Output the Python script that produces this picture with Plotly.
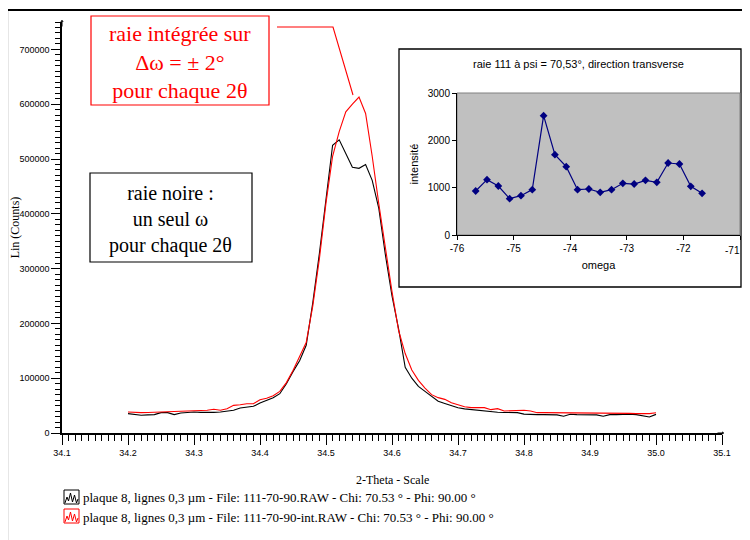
import plotly.graph_objects as go

# ---------------- data ----------------
two_theta = [round(34.20 + 0.01 * i, 2) for i in range(81)]

black_counts = [
    35400, 33800, 32300, 33000, 33500, 37100, 37100, 33500, 36500, 37400,   # 34.20-34.29
    38300, 37700, 37100, 37700, 38300, 39800, 41400, 45600, 47500, 48700,   # 34.30-34.39
    54700, 59000, 64500, 71700, 90000, 112000, 132000, 160000, 238000, 328000,  # 34.40-34.49
    425000, 525000, 535000, 510000, 485000, 483000, 490000, 461000, 410000, 325000,  # 34.50-34.59
    250000, 190000, 120000, 100000, 85000, 76000, 67000, 58000, 54000, 50000,  # 34.60-34.69
    46000, 44000, 42500, 41400, 40000, 38500, 37800, 37500, 37100, 37100,   # 34.70-34.79
    34500, 33500, 33500, 33500, 33500, 33000, 30500, 34100, 33500, 33500,   # 34.80-34.89
    33500, 33000, 30500, 33500, 33500, 34100, 34100, 33500, 32000, 29200,   # 34.90-34.99
    34000,                                                                   # 35.00
]

red_counts = [
    38300, 37500, 37100, 37500, 38300, 38900, 38900, 39200, 39500, 40100,   # 34.20-34.29
    40100, 40100, 41500, 43200, 41400, 44400, 50500, 51500, 53500, 53500,   # 34.30-34.39
    60800, 63500, 68000, 76000, 92000, 114000, 140000, 165000, 232000, 318000,  # 34.40-34.49
    420000, 505000, 550000, 586000, 600000, 613000, 583000, 505000, 418000, 335000,  # 34.50-34.59
    258000, 187000, 145000, 115000, 96000, 82000, 70000, 64500, 61400, 55000,  # 34.60-34.69
    51000, 48000, 46300, 46300, 46300, 42600, 44400, 40100, 40500, 41400,   # 34.70-34.79
    41400, 40200, 37100, 37100, 37100, 37100, 37100, 36800, 36800, 36800,   # 34.80-34.89
    36800, 36800, 36500, 36500, 36500, 36500, 35800, 35400, 35400, 35400,   # 34.90-34.99
    37100,                                                                   # 35.00
]

omega = [-75.67, -75.47, -75.27, -75.07, -74.87, -74.67, -74.47, -74.27, -74.07,
         -73.87, -73.67, -73.47, -73.27, -73.07, -72.87, -72.67, -72.47, -72.27,
         -72.07, -71.87, -71.67]
intensite = [930, 1169, 1035, 768, 831, 958, 2521, 1697, 1444, 958, 972, 901,
             958, 1092, 1077, 1155, 1113, 1521, 1500, 1028, 880]

main_x_ticks = [34.1, 34.2, 34.3, 34.4, 34.5, 34.6, 34.7, 34.8, 34.9, 35.0, 35.1]
main_y_ticks = [0, 100000, 200000, 300000, 400000, 500000, 600000, 700000]
inset_x_ticks = [-76, -75, -74, -73, -72, -71]

legend_black = "plaque 8, lignes 0,3 µm - File: 111-70-90.RAW - Chi: 70.53 ° - Phi: 90.00 °"
legend_red = "plaque 8, lignes 0,3 µm - File: 111-70-90-int.RAW - Chi: 70.53 ° - Phi: 90.00 °"

# ---------------- layout geometry ----------------
# the page body adds an 8 px offset; all target positions below are window pixels
OFF = 8
W, H = 750 - OFF, 540 - OFF
ML, MT = 62 - OFF, 22 - OFF
MR = W - (745 - OFF)
MB = H - (433 - OFF)
PW = W - ML - MR
PH = H - MT - MB


def px(x):
    return (x - OFF - ML) / PW


def py(y):
    return (H - MB - (y - OFF)) / PH


SERIF = "Liberation Serif"
SANS = "Liberation Sans"

fig = go.Figure()

fig.add_trace(go.Scatter(x=two_theta, y=black_counts, mode="lines",
                         line=dict(color="black", width=1.1), name="black",
                         xaxis="x", yaxis="y", showlegend=False))
fig.add_trace(go.Scatter(x=two_theta, y=red_counts, mode="lines",
                         line=dict(color="#ff0000", width=1.1), name="red",
                         xaxis="x", yaxis="y", showlegend=False))
fig.add_trace(go.Scatter(x=omega, y=intensite, mode="lines+markers",
                         line=dict(color="#000080", width=1.2),
                         marker=dict(symbol="diamond", size=6, color="#000080"),
                         xaxis="x2", yaxis="y2", showlegend=False))

shapes = []
# outer frame
shapes.append(dict(type="rect", xref="paper", yref="paper",
                   x0=px(7), x1=px(770), y0=py(10), y1=py(560),
                   line=dict(color="black", width=2.2), fillcolor="rgba(0,0,0,0)",
                   layer="below"))
# inset white box
shapes.append(dict(type="rect", xref="paper", yref="paper",
                   x0=px(399), x1=px(741), y0=py(49), y1=py(287),
                   line=dict(color="black", width=1.3), fillcolor="white",
                   layer="below"))
# inset gray plot area
shapes.append(dict(type="rect", xref="x2 domain", yref="y2 domain",
                   x0=0, x1=1, y0=0, y1=1,
                   line=dict(color="#808080", width=1), fillcolor="#c0c0c0",
                   layer="below"))
# red text box
shapes.append(dict(type="rect", xref="paper", yref="paper",
                   x0=px(91), x1=px(269), y0=py(16), y1=py(105),
                   line=dict(color="#ff0000", width=1.2), fillcolor="rgba(0,0,0,0)"))
# leader line
shapes.append(dict(type="path", xref="paper", yref="paper",
                   path="M %f,%f L %f,%f L %f,%f" % (px(277), py(27), px(333), py(27), px(353), py(95)),
                   line=dict(color="#ff0000", width=1.1)))
# black text box
shapes.append(dict(type="rect", xref="paper", yref="paper",
                   x0=px(90), x1=px(252), y0=py(173), y1=py(262),
                   line=dict(color="black", width=1.2), fillcolor="rgba(0,0,0,0)"))


def legend_icon(y_top, color):
    x0, x1 = 64, 79
    y0, y1 = y_top, y_top + 14
    shapes.append(dict(type="rect", xref="paper", yref="paper",
                       x0=px(x0), x1=px(x1), y0=py(y0), y1=py(y1),
                       line=dict(color=color, width=1), fillcolor="rgba(0,0,0,0)"))
    pts = [(65, 13), (67, 7), (68.5, 11), (70.5, 3), (72.5, 12), (74.5, 5), (76.5, 13), (78, 9)]
    path = "M " + " L ".join("%f,%f" % (px(a), py(y_top + b)) for a, b in pts)
    shapes.append(dict(type="path", xref="paper", yref="paper", path=path,
                       line=dict(color=color, width=1)))


legend_icon(490, "black")
legend_icon(509, "#ff0000")

annotations = []
annotations.append(dict(xref="paper", yref="paper", x=px(180), y=py(62),
                        text="raie intégrée sur<br>Δω = ± 2°<br>pour chaque 2θ",
                        showarrow=False, font=dict(family=SERIF, size=22, color="#ff0000"),
                        align="center", xanchor="center", yanchor="middle"))
annotations.append(dict(xref="paper", yref="paper", x=px(170), y=py(219),
                        text="raie noire :<br>un seul ω<br>pour chaque 2θ",
                        showarrow=False, font=dict(family=SERIF, size=20, color="black"),
                        align="center", xanchor="center", yanchor="middle"))
annotations.append(dict(xref="paper", yref="paper", x=px(81), y=py(498),
                        text=legend_black, showarrow=False,
                        font=dict(family=SERIF, size=13, color="black"),
                        xanchor="left", yanchor="middle"))
annotations.append(dict(xref="paper", yref="paper", x=px(81), y=py(517),
                        text=legend_red, showarrow=False,
                        font=dict(family=SERIF, size=13, color="black"),
                        xanchor="left", yanchor="middle"))
# main x-axis title
annotations.append(dict(xref="paper", yref="paper", x=px(392), y=py(480),
                        text="2-Theta - Scale", showarrow=False,
                        font=dict(family=SERIF, size=12, color="black"),
                        xanchor="center", yanchor="middle"))
# inset title
annotations.append(dict(xref="paper", yref="paper", x=px(578), y=py(64),
                        text="raie 111 à psi = 70,53°, direction transverse", showarrow=False,
                        font=dict(family=SANS, size=11, color="black"),
                        xanchor="center", yanchor="middle"))
# last inset x tick label, kept inside the visible page edge
annotations.append(dict(xref="paper", yref="paper", x=px(742), y=py(250),
                        text=str(inset_x_ticks[-1]), showarrow=False,
                        font=dict(family=SANS, size=10, color="black"),
                        xanchor="right", yanchor="middle"))
# axis arrows
annotations.append(dict(xref="paper", yref="paper", x=px(724), y=py(433), ax=-8, ay=0,
                        text="", showarrow=True, arrowhead=1, arrowsize=0.6,
                        arrowwidth=1, arrowcolor="black"))
annotations.append(dict(xref="paper", yref="paper", x=px(62), y=py(20), ax=0, ay=8,
                        text="", showarrow=True, arrowhead=1, arrowsize=0.6,
                        arrowwidth=1, arrowcolor="black"))

main_x_end = px(722)

fig.update_layout(
    width=W, height=H,
    margin=dict(l=ML, r=MR, t=MT, b=MB, autoexpand=False),
    paper_bgcolor="white",
    plot_bgcolor="rgba(0,0,0,0)",
    showlegend=False,
    shapes=shapes,
    annotations=annotations,
    xaxis=dict(
        domain=[0, main_x_end], range=[34.1, 35.1],
        tickvals=main_x_ticks, ticktext=["%.1f" % v for v in main_x_ticks],
        ticks="outside", ticklen=10, tickwidth=1, tickcolor="black",
        minor=dict(dtick=0.01, tick0=34.1, ticks="outside", ticklen=6, tickwidth=1, tickcolor="black"),
        showline=True, linecolor="black", linewidth=1.5,
        showgrid=False, zeroline=False,
        tickfont=dict(family=SANS, size=9, color="black"),
        anchor="y", automargin=False, ticklabeloverflow="allow",
    ),
    yaxis=dict(
        domain=[0, 1], range=[0, 750000],
        tickvals=main_y_ticks, ticktext=[str(v) for v in main_y_ticks],
        ticks="outside", ticklen=9, tickwidth=1, tickcolor="black",
        minor=dict(dtick=10000, tick0=0, ticks="outside", ticklen=5, tickwidth=1, tickcolor="black"),
        showline=True, linecolor="black", linewidth=1.5,
        showgrid=False, zeroline=False,
        tickfont=dict(family=SANS, size=9, color="black"),
        title=dict(text="Lin (Counts)", font=dict(family=SERIF, size=12, color="black"), standoff=0),
        anchor="x", automargin=False,
    ),
    xaxis2=dict(
        domain=[px(457), px(740)], range=[-76, -71],
        tickvals=inset_x_ticks,
        ticktext=[str(v) for v in inset_x_ticks[:-1]] + [" "],
        ticks="outside", ticklen=4, tickcolor="black",
        showline=True, linecolor="black", linewidth=1,
        showgrid=False, zeroline=False,
        tickfont=dict(family=SANS, size=10, color="black"),
        title=dict(text="omega", font=dict(family=SANS, size=11, color="black"), standoff=8),
        anchor="y2", automargin=False,
    ),
    yaxis2=dict(
        domain=[py(235), py(93)], range=[0, 3000], dtick=1000,
        ticks="outside", ticklen=4, tickcolor="black",
        showline=True, linecolor="black", linewidth=1,
        showgrid=False, zeroline=False,
        tickfont=dict(family=SANS, size=10, color="black"),
        title=dict(text="intensité", font=dict(family=SANS, size=11, color="black"), standoff=6),
        anchor="x2", automargin=False,
    ),
)

fig.write_html("out.html")
